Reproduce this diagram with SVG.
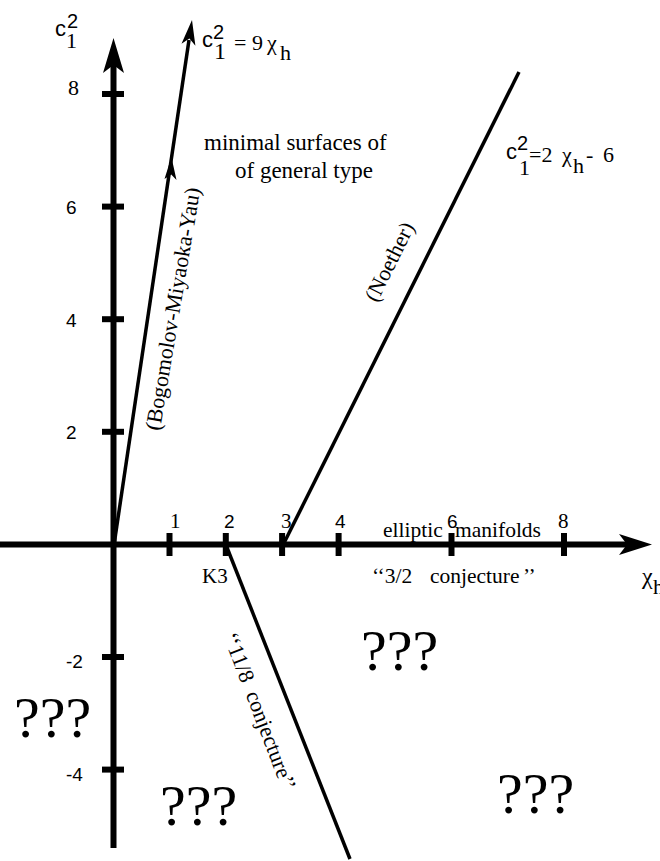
<svg xmlns="http://www.w3.org/2000/svg" width="660" height="861" viewBox="0 0 660 861">
<style>
.serif{font-family:"Liberation Serif","Times New Roman",serif;fill:#000}
.sans{font-family:"Liberation Sans",Arial,sans-serif;fill:#000}
.axis{stroke:#000;stroke-width:6;fill:none}
.tick{stroke:#000;stroke-width:6}
.ln{stroke:#000;stroke-width:3.5;fill:none}
.q{font-size:58px}
</style>
<rect width="660" height="861" fill="#fff"/>
<g id="axes">
  <line class="axis" x1="113.5" y1="60" x2="113.5" y2="848"/>
  <path d="M113.5,38 L124,73 L113.5,65 L103,73 Z" fill="#000"/>
  <line class="axis" x1="0" y1="544.4" x2="632" y2="544.4"/>
  <path d="M652,544.4 L619,534 L627,544.4 L619,555 Z" fill="#000"/>
  <g id="yticks">
    <line class="tick" x1="102" y1="94" x2="124" y2="94"/>
    <line class="tick" x1="102" y1="206.6" x2="124" y2="206.6"/>
    <line class="tick" x1="102" y1="319.2" x2="124" y2="319.2"/>
    <line class="tick" x1="102" y1="431.8" x2="124" y2="431.8"/>
    <line class="tick" x1="102" y1="657" x2="124" y2="657"/>
    <line class="tick" x1="102" y1="769.6" x2="124" y2="769.6"/>
  </g>
  <g id="xticks">
    <line class="tick" x1="169.5" y1="533" x2="169.5" y2="556"/>
    <line class="tick" x1="225.8" y1="533" x2="225.8" y2="556"/>
    <line class="tick" x1="282.1" y1="533" x2="282.1" y2="556"/>
    <line class="tick" x1="338.6" y1="533" x2="338.6" y2="556"/>
    <line class="tick" x1="451.5" y1="533" x2="451.5" y2="556"/>
    <line class="tick" x1="564" y1="533" x2="564" y2="556"/>
  </g>
</g>
<g id="connectors">
  <line class="ln" x1="114" y1="545" x2="189" y2="40"/>
  <path d="M192,20 L195.4,45.7 L189.4,38.5 L181.5,43.7 Z" fill="#000"/>
  <path d="M171.4,157 L176.5,180 L171.2,174.5 L164.5,179 Z" fill="#000"/>
  <line class="ln" x1="283" y1="545" x2="519" y2="72"/>
  <line class="ln" x1="226" y1="545" x2="350" y2="859"/>
</g>
<g id="ylabels">
  <text class="sans" x="55" y="36" font-size="22">c</text>
  <text class="sans" x="67" y="28" font-size="20">2</text>
  <text class="serif" x="66" y="48" font-size="22">1</text>
  <text class="serif" x="68" y="95" font-size="22">8</text>
  <text class="sans" x="66" y="214" font-size="19">6</text>
  <text class="sans" x="66" y="327" font-size="19">4</text>
  <text class="sans" x="66" y="439" font-size="19">2</text>
  <text class="sans" x="66" y="668" font-size="19">-2</text>
  <text class="sans" x="66" y="781" font-size="19">-4</text>
</g>
<g id="xlabels">
  <text class="serif" x="170" y="528" font-size="21">1</text>
  <text class="sans" x="224" y="528" font-size="19">2</text>
  <text class="serif" x="281" y="528" font-size="21">3</text>
  <text class="sans" x="335" y="528" font-size="19">4</text>
  <text class="sans" x="447" y="528" font-size="19">6</text>
  <text class="serif" x="558" y="528" font-size="21">8</text>
  <text class="serif" x="202" y="583" font-size="21">K3</text>
  <text class="serif" x="642" y="584" font-size="24">χ</text>
  <text class="serif" x="653" y="594" font-size="22">h</text>
</g>
<g id="eq-bmy">
  <text class="sans" x="202" y="47" font-size="22">c</text>
  <text class="sans" x="213" y="39" font-size="20">2</text>
  <text class="serif" x="214" y="59" font-size="24">1</text>
  <text class="serif" x="234" y="50" font-size="22">= 9</text>
  <text class="serif" x="267" y="50" font-size="22">χ</text>
  <text class="serif" x="280" y="60" font-size="22">h</text>
</g>
<g id="eq-noether">
  <text class="sans" x="506" y="159" font-size="22">c</text>
  <text class="sans" x="517" y="150" font-size="20">2</text>
  <text class="serif" x="519" y="175" font-size="22">1</text>
  <text class="serif" x="529" y="162" font-size="22">=2</text>
  <text class="serif" x="562" y="162" font-size="22">χ</text>
  <text class="serif" x="573" y="173" font-size="22">h</text>
  <text class="serif" x="586" y="162" font-size="22">-</text>
  <text class="serif" x="603" y="162" font-size="22">6</text>
</g>
<g id="region-general">
  <text class="serif" x="204" y="150" font-size="23">minimal surfaces of</text>
  <text class="serif" x="235" y="178" font-size="23">of general type</text>
</g>
<g id="line-labels">
  <text class="serif" font-size="22" text-anchor="middle" transform="translate(180,310) rotate(-80.5)">(Bogomolov-Miyaoka-Yau)</text>
  <text class="serif" font-size="22" text-anchor="middle" transform="translate(396,265) rotate(-63.5)">(Noether)</text>
  <text class="serif" font-size="22" text-anchor="middle" transform="translate(253,714) rotate(69)" xml:space="preserve">‘‘11/8  conjecture’’</text>
</g>
<g id="axis-notes">
  <text class="serif" x="383" y="537" font-size="21.5">elliptic</text>
  <text class="serif" x="455" y="537" font-size="21.5">manifolds</text>
  <text class="serif" x="372" y="583" font-size="21.5">‘‘3/2</text>
  <text class="serif" x="430" y="583" font-size="21.5">conjecture</text>
  <text class="serif" x="523" y="583" font-size="21.5">’’</text>
</g>
<g id="unknown">
  <text class="serif q" x="14" y="737">???</text>
  <text class="serif q" x="160" y="825">???</text>
  <text class="serif q" x="361" y="670">???</text>
  <text class="serif q" x="497" y="813">???</text>
</g>
</svg>
